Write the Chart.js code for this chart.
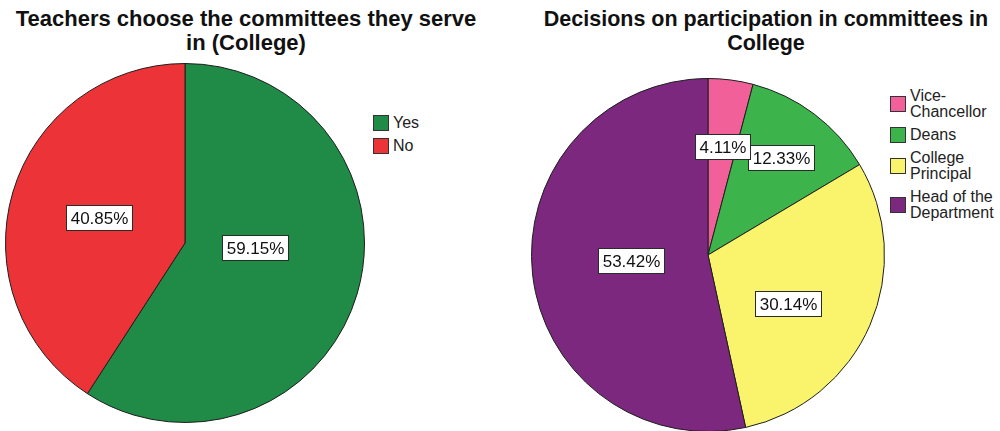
<!DOCTYPE html>
<html>
<head>
<meta charset="utf-8">
<script src="https://cdn.jsdelivr.net/npm/chart.js@4.4.1/dist/chart.umd.min.js"></script>
<style>
  html, body { margin: 0; padding: 0; background: #fff; }
  #page { position: relative; width: 1000px; height: 431px; overflow: hidden;
          font-family: "Liberation Sans", Arial, sans-serif; }
  .title { position: absolute; transform: translateX(-50%); font-weight: bold;
           font-size: 22px; line-height: 24px; color: #111; text-align: center; white-space: nowrap; }
  .legend { position: absolute; font-size: 16px; line-height: 16px; color: #222; }
  .item { display: flex; align-items: center; margin-bottom: 7px; }
  .swatch { width: 14px; height: 14px; border: 1px solid #333; flex: none; margin-right: 4px; }
  .pie { position: absolute; }
</style>
</head>
<body>
<div id="page">
  <div class="title" id="titleLeft" style="left:246px; top:7px;"></div>
  <div class="title" id="titleRight" style="left:766px; top:7px; font-size:21.5px;"></div>
  <div class="pie" style="left:5px; top:63px;"><canvas id="choiceChart" width="360" height="360"></canvas></div>
  <div class="pie" style="left:531px; top:78px;"><canvas id="deciderChart" width="354" height="354"></canvas></div>
  <div class="legend" id="legendLeft" style="left:373px; top:115px;"></div>
  <div class="legend" id="legendRight" style="left:890px; top:88px;"></div>
</div>
<script>
// Teachers choose the committees they serve in (College)
const choiceTitle = ['Teachers choose the committees they serve', 'in (College)'];
const choiceLabels = ['Yes', 'No'];
const choiceValues = [59.15, 40.85];

// Who decides on participation in committees in College
const deciderTitle = ['Decisions on participation in committees in', 'College'];
const deciderLabels = ['Vice-Chancellor', 'Deans', 'College Principal', 'Head of the Department'];
const deciderLegendLines = [['Vice-', 'Chancellor'], ['Deans'], ['College', 'Principal'], ['Head of the', 'Department']];
const deciderValues = [4.11, 12.33, 30.14, 53.42];

// Slice fills
const choiceColors = ['#1f8b47', '#ec3338'];
const deciderColors = ['#f2609a', '#3db44b', '#faf46c', '#7b287e'];

// Percentage labels in white boxes, placed inside each slice.
// placement[i] = [fraction along the slice's sweep, fraction of the radius]
// Drawn last-to-first so the first slice's label sits on top where boxes touch.
const boxedPercentLabels = {
  id: 'boxedPercentLabels',
  afterDatasetsDraw(chart, args, opts) {
    const ctx = chart.ctx;
    const meta = chart.getDatasetMeta(0);
    const values = chart.data.datasets[0].data;
    ctx.save();
    ctx.font = opts.font;
    ctx.textAlign = 'center';
    ctx.textBaseline = 'middle';
    for (let i = meta.data.length - 1; i >= 0; i--) {
      const arc = meta.data[i];
      const p = arc.getProps(['x', 'y', 'startAngle', 'endAngle', 'outerRadius'], true);
      const place = opts.placement[i];
      const a = p.startAngle + (p.endAngle - p.startAngle) * place[0];
      const r = p.outerRadius * place[1];
      const cx = p.x + Math.cos(a) * r;
      const cy = p.y + Math.sin(a) * r;
      const text = values[i].toFixed(2) + '%';
      const w = Math.round(ctx.measureText(text).width + 2 * opts.padX);
      const h = opts.boxHeight;
      const left = Math.round(cx - w / 2) + 0.5;
      const top = Math.round(cy - h / 2) + 0.5;
      ctx.fillStyle = '#ffffff';
      ctx.fillRect(left, top, w, h);
      ctx.strokeStyle = '#2a2a2a';
      ctx.lineWidth = 1;
      ctx.strokeRect(left, top, w, h);
      ctx.fillStyle = '#111';
      ctx.fillText(text, left + w / 2, top + h / 2 + 1);
    }
    ctx.restore();
  }
};

function pieConfig(labels, values, colors, placement) {
  return {
    type: 'pie',
    data: {
      labels: labels,
      datasets: [{
        data: values,
        backgroundColor: colors,
        borderColor: '#1e1e1e',
        borderWidth: 1
      }]
    },
    options: {
      responsive: false,
      animation: false,
      rotation: 0,
      layout: { padding: 0 },
      plugins: {
        legend: { display: false },
        title: { display: false },
        tooltip: { enabled: false },
        boxedPercentLabels: {
          font: '17px "Liberation Sans", Arial, sans-serif',
          padX: 4,
          boxHeight: 25,
          placement: placement
        }
      }
    },
    plugins: [boxedPercentLabels]
  };
}

new Chart(document.getElementById('choiceChart'),
  pieConfig(choiceLabels, choiceValues, choiceColors, [[0.44, 0.39], [0.5, 0.5]]));
new Chart(document.getElementById('deciderChart'),
  pieConfig(deciderLabels, deciderValues, deciderColors,
    [[0.5, 0.62], [0.5, 0.69], [0.57, 0.53], [0.51, 0.44]]));

// Titles
document.getElementById('titleLeft').innerHTML = choiceTitle.join('<br>');
document.getElementById('titleRight').innerHTML = deciderTitle.join('<br>');

// Legends
function buildLegend(el, lineSets, colors) {
  lineSets.forEach((lines, i) => {
    const item = document.createElement('div');
    item.className = 'item';
    const sw = document.createElement('div');
    sw.className = 'swatch';
    sw.style.background = colors[i];
    const txt = document.createElement('div');
    txt.innerHTML = lines.join('<br>');
    item.appendChild(sw);
    item.appendChild(txt);
    el.appendChild(item);
  });
}
buildLegend(document.getElementById('legendLeft'), choiceLabels.map(l => [l]), choiceColors);
buildLegend(document.getElementById('legendRight'), deciderLegendLines, deciderColors);
</script>
</body>
</html>
